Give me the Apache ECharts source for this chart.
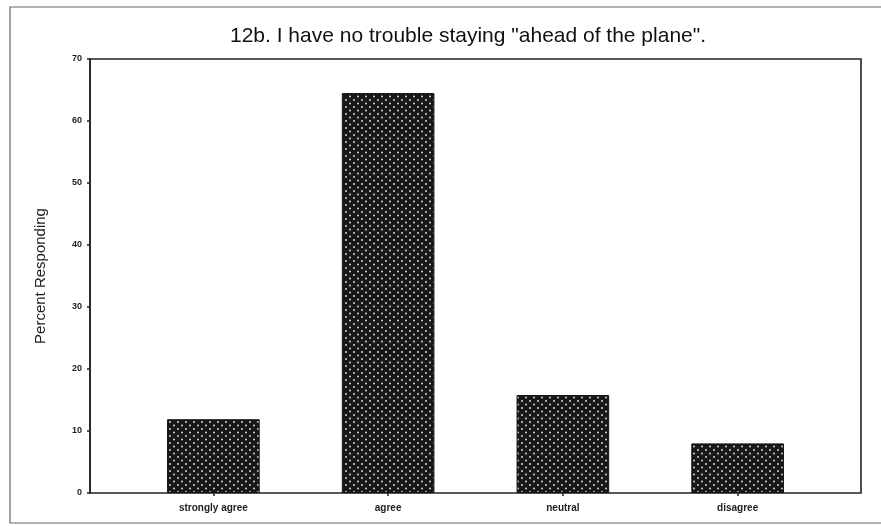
<!DOCTYPE html>
<html>
<head>
<meta charset="utf-8">
<script src="https://cdn.jsdelivr.net/npm/echarts@6/dist/echarts.min.js"></script>
<style>
html,body{margin:0;padding:0;background:#fff;}
#chart{width:881px;height:526px;}
</style>
</head>
<body>
<div id="chart"></div>
<script>
const categories = ['strongly agree', 'agree', 'neutral', 'disagree'];
const values = [11.9, 64.5, 15.8, 8.0];
const yMin = 0, yMax = 70, yStep = 10;
const titleText = '12b. I have no trouble staying "ahead of the plane".';
const yName = 'Percent Responding';

// dotted fill pattern
const tile = document.createElement('canvas');
tile.width = 8; tile.height = 7;
const ctx = tile.getContext('2d');
ctx.fillStyle = '#181818';
ctx.fillRect(0, 0, 8, 7);
ctx.fillStyle = '#d4d4d4';
ctx.beginPath(); ctx.arc(2, 2, 1.0, 0, Math.PI * 2); ctx.fill();
ctx.beginPath(); ctx.arc(6, 5.5, 1.0, 0, Math.PI * 2); ctx.fill();

const chart = echarts.init(document.getElementById('chart'), null, {renderer: 'canvas'});
chart.setOption({
  animation: false,
  backgroundColor: '#fff',
  title: {
    text: titleText,
    left: 463, top: 21, textAlign: 'center',
    textStyle: {fontFamily: 'Liberation Sans, Arial', fontSize: 21, fontWeight: 'normal', color: '#111'}
  },
  graphic: [{
    type: 'rect', silent: true,
    shape: {x: 10, y: 7, width: 880, height: 516},
    style: {fill: 'none', stroke: '#666', lineWidth: 1.2}
  }],
  grid: [
    {left: 90, right: 20, top: 59, bottom: 33, show: true, borderColor: '#222', borderWidth: 1.6, backgroundColor: 'transparent'},
    {left: 126, right: 56, top: 59, bottom: 33}
  ],
  xAxis: [
    {type: 'category', gridIndex: 0, data: categories, show: false},
    {
      type: 'category', gridIndex: 1, data: categories,
      axisLine: {show: false},
      axisTick: {show: true, alignWithLabel: true, length: 3, lineStyle: {color: '#222', width: 1.5}},
      axisLabel: {fontFamily: 'Liberation Sans, Arial', fontSize: 10, fontWeight: 'bold', color: '#222', margin: 10}
    }
  ],
  yAxis: [
    {
      type: 'value', gridIndex: 0, min: yMin, max: yMax, interval: yStep,
      name: yName, nameLocation: 'middle', nameGap: 42, nameRotate: 90,
      nameTextStyle: {fontFamily: 'Liberation Sans, Arial', fontSize: 15, color: '#222'},
      axisLine: {show: true, lineStyle: {color: '#222', width: 1.6}},
      axisTick: {show: true, length: 3, lineStyle: {color: '#222', width: 1.5}},
      axisLabel: {fontFamily: 'Liberation Sans, Arial', fontSize: 9, fontWeight: 'bold', color: '#222', margin: 8},
      splitLine: {show: false}
    },
    {type: 'value', gridIndex: 1, min: yMin, max: yMax, interval: yStep, show: false, splitLine: {show: false}}
  ],
  series: [{
    type: 'bar', xAxisIndex: 1, yAxisIndex: 1,
    data: values, barWidth: '53%',
    itemStyle: {color: {image: tile, repetition: 'repeat'}, borderColor: '#111', borderWidth: 1}
  }]
});
</script>
</body>
</html>
